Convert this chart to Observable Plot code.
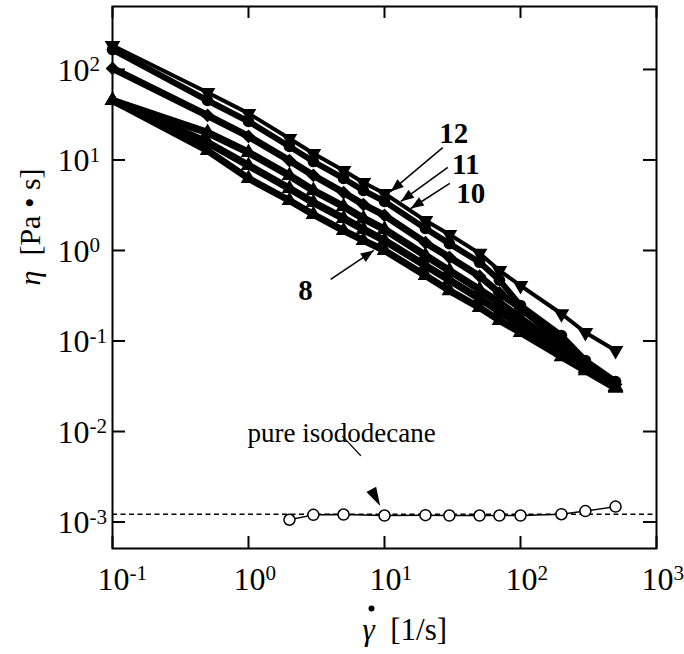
<!DOCTYPE html>
<html><head><meta charset="utf-8">
<script src="https://cdn.jsdelivr.net/npm/d3@7"></script>
<script src="https://cdn.jsdelivr.net/npm/@observablehq/plot@0.6"></script>
<style>html,body{margin:0;padding:0;background:#fff} svg text{font-family:'Liberation Serif','Times New Roman',serif}</style>
</head><body><div id="chart"></div>
<script>
// ---------- data ----------
const shearRates = [0.1, 0.5, 1, 2, 3, 5, 7, 10, 20, 30, 50, 70, 100, 200, 300, 500];
const eta12 = [184, 55.7, 32.7, 17.3, 11.8, 7.66, 5.64, 4.26, 2.14, 1.50, 0.93, 0.60, 0.41, 0.20, 0.124, 0.0785];
const eta11 = [166, 45.4, 26.6, 14.1, 9.6, 6.25, 4.6, 3.48, 1.75, 1.19, 0.74, 0.47, 0.247, 0.115, 0.061, 0.0357];
const eta10 = [102.6, 31, 18.2, 9.86, 6.74, 4.37, 3.22, 2.44, 1.22, 0.84, 0.52, 0.34, 0.23, 0.10, 0.052, 0.033];
const eta9a = [45.4, 20.1, 12.1, 6.74, 4.6, 3.06, 2.26, 1.71, 0.88, 0.60, 0.37, 0.266, 0.177, 0.085, 0.054, 0.0314];
const eta9b = [45.4, 15.6, 8.7, 4.84, 3.39, 2.26, 1.71, 1.29, 0.68, 0.47, 0.295, 0.212, 0.148, 0.0746, 0.0497, 0.0306];
const eta8  = [45.4, 12.7, 6.25, 3.57, 2.5, 1.66, 1.29, 1.0, 0.53, 0.36, 0.234, 0.169, 0.124, 0.067, 0.047, 0.030];
const seriesNames = ["12", "11", "10", "9a", "9b", "8"];
const seriesSymbols = ["triangle-down", "circle", "diamond2", "triangle", "triangle", "triangle"];
const labelledSeries = ["12", "11", "10", "8"];

const solventRates = [2, 3, 5, 10, 20, 30, 50, 70, 100, 200, 300, 500];
const etaSolvent = [1.06e-3, 1.20e-3, 1.21e-3, 1.18e-3, 1.19e-3, 1.18e-3, 1.18e-3, 1.18e-3, 1.18e-3, 1.22e-3, 1.32e-3, 1.48e-3];
const solventLevel = [1.22e-3];

const xTickValues = [0.1, 1, 10, 100, 1000];
const xTickLabels = ["10^-1", "10^0", "10^1", "10^2", "10^3"];
const yTickValues = [1e-3, 1e-2, 1e-1, 1, 10, 100];
const yTickLabels = ["10^-3", "10^-2", "10^-1", "10^0", "10^1", "10^2"];

// annotation positions (data coordinates)
const labelX = [32.3, 39.6, 43.1, 2.63];
const labelY = [19.6, 8.9, 4.2, 0.361];
const arrowFromX = [26.8, 29.2, 30.2, 4.02];
const arrowFromY = [13.7, 8.26, 5.5, 0.479];
const arrowToX = [11.1, 13.2, 15.6, 8.33];
const arrowToY = [4.49, 3.48, 2.91, 1.0];
const arrowAngle = [230, 234, 237, 56];
const solventLabel = ["pure isododecane"];
const solventLabelPos = [4.84, 0.0095];
const solventArrowLine = [[4.9, 0.0089], [6.7, 0.0054]];
const solventArrowTip = [9.3, 1.5e-3];
const solventArrowAngle = 152;

const FONT = "'Liberation Serif', 'Times New Roman', serif";

// ---------- helpers ----------
function headSymbol(angleDeg, len, wid) {
  const a = angleDeg * Math.PI / 180, c = Math.cos(a), s = Math.sin(a);
  const rot = (px, py) => [px * c - py * s, px * s + py * c];
  return {draw(ctx) {
    const p1 = rot(-wid / 2, len), p2 = rot(wid / 2, len);
    ctx.moveTo(0, 0); ctx.lineTo(p1[0], p1[1]); ctx.lineTo(p2[0], p2[1]); ctx.closePath();
  }};
}
const triDown = {draw(ctx, size) {
  const y = -Math.sqrt(size / (Math.sqrt(3) * 3));
  ctx.moveTo(0, -y * 2); ctx.lineTo(-Math.sqrt(3) * y, y); ctx.lineTo(Math.sqrt(3) * y, y); ctx.closePath();
}};

const series = [eta12, eta11, eta10, eta9a, eta9b, eta8].map((vals, i) =>
  shearRates.map((x, j) => ({x, y: vals[j], s: seriesNames[i]})));
const lineWidths = [4, 6, 7, 7.5, 7.5, 7];

const W = 684, H = 654, mL = 112, mR = 28, mT = 6, mB = 106;
const innerW = W - mL - mR, innerH = H - mT - mB;

const marks = [];
marks.push(Plot.ruleY(solventLevel, {strokeDasharray: "5,3.5", strokeWidth: 1.5, stroke: "black"}));
series.forEach((data, i) => {
  marks.push(Plot.line(data, {x: "x", y: "y", stroke: "black", strokeWidth: lineWidths[i]}));
});
series.forEach((data, i) => {
  const sym = seriesSymbols[i] === "triangle-down" ? triDown : seriesSymbols[i];
  const r = seriesSymbols[i] === "circle" ? 5.8 : seriesSymbols[i] === "diamond2" ? 6.2 : 5.8;
  marks.push(Plot.dot(data, {x: "x", y: "y", symbol: sym, r, fill: "black", stroke: "none"}));
});
const solvent = solventRates.map((x, j) => ({x, y: etaSolvent[j]}));
marks.push(Plot.line(solvent, {x: "x", y: "y", stroke: "black", strokeWidth: 1.5}));
marks.push(Plot.dot(solvent, {x: "x", y: "y", r: 5.5, fill: "white", stroke: "black", strokeWidth: 1.5}));

// frame + inward ticks
marks.push(Plot.frame({stroke: "black", strokeWidth: 2}));
marks.push(Plot.tickX(xTickValues, {x: d => d, insetTop: innerH - 12, stroke: "black", strokeWidth: 2}));
marks.push(Plot.tickX(xTickValues, {x: d => d, insetBottom: innerH - 12, stroke: "black", strokeWidth: 2}));
marks.push(Plot.tickY(yTickValues, {y: d => d, insetRight: innerW - 13, stroke: "black", strokeWidth: 2}));
marks.push(Plot.tickY(yTickValues, {y: d => d, insetLeft: innerW - 13, stroke: "black", strokeWidth: 2}));

// tick labels
marks.push(Plot.text(xTickValues, {x: d => d, frameAnchor: "bottom", text: (d, i) => xTickLabels[i],
  textAnchor: "start", dx: -15, dy: 41, lineAnchor: "bottom", fontSize: 32, fontFamily: FONT, fill: "black"}));
marks.push(Plot.text(yTickValues, {y: d => d, frameAnchor: "left", text: (d, i) => yTickLabels[i],
  textAnchor: "start", dx: -55, dy: 1, lineAnchor: "middle", fontSize: 32, fontFamily: FONT, fill: "black"}));

// axis titles
marks.push(Plot.text(["γ\u00a0\u00a0[1/s]"], {frameAnchor: "bottom", text: d => d, textAnchor: "start", dx: -22, dy: 91,
  lineAnchor: "bottom", fontSize: 31, fontFamily: FONT, fill: "black"}));
marks.push(Plot.dot(["dot"], {frameAnchor: "bottom", dx: -13, dy: 60, r: 3, fill: "black", stroke: "none"}));
marks.push(Plot.text(["η\u00a0\u00a0[Pa • s]"], {frameAnchor: "left", text: d => d, dx: -82, dy: 8, rotate: -90,
  lineAnchor: "middle", fontSize: 30, fontFamily: FONT, fill: "black"}));

// annotations
const ann = labelledSeries.map((n, i) => ({n, x: labelX[i], y: labelY[i], x1: arrowFromX[i], y1: arrowFromY[i], x2: arrowToX[i], y2: arrowToY[i], a: arrowAngle[i]}));
marks.push(Plot.link(ann, {x1: "x1", y1: "y1", x2: "x2", y2: "y2", stroke: "black", strokeWidth: 1.5}));
ann.forEach(d => {
  marks.push(Plot.dot([d], {x: "x2", y: "y2", symbol: headSymbol(d.a, 13, 10), r: 5, fill: "black", stroke: "none"}));
});
marks.push(Plot.text(ann, {x: "x", y: "y", text: "n", fontSize: 29, fontWeight: "bold", fontFamily: FONT, fill: "black", lineAnchor: "middle"}));
marks.push(Plot.text(solventLabel, {x: solventLabelPos[0], y: solventLabelPos[1], text: d => d, fontSize: 27, fontFamily: FONT, fill: "black", lineAnchor: "middle"}));
marks.push(Plot.link([solventArrowLine], {x1: d => d[0][0], y1: d => d[0][1], x2: d => d[1][0], y2: d => d[1][1], stroke: "black", strokeWidth: 1.2}));
marks.push(Plot.dot([solventArrowTip], {x: d => d[0], y: d => d[1], symbol: headSymbol(solventArrowAngle, 19, 11), r: 5, fill: "black", stroke: "none"}));

const chart = Plot.plot({
  width: W, height: H,
  marginLeft: mL, marginRight: mR, marginTop: mT, marginBottom: mB,
  x: {type: "log", domain: [0.1, 1000], axis: null},
  y: {type: "log", domain: [5.1e-4, 496], axis: null},
  style: {fontFamily: FONT, background: "white", color: "black", overflow: "visible"},
  marks
});
document.getElementById("chart").append(chart);

// superscript exponents and italic greek letters
d3.select(chart).selectAll("text").each(function () {
  const t = d3.select(this);
  const s = this.textContent;
  const m = s.match(/^10\^(.+)$/);
  if (m) {
    t.text("");
    t.append("tspan").text("10");
    t.append("tspan").attr("dy", "-0.45em").attr("font-size", "0.66em").text(m[1]);
    return;
  }
  if (s[0] === "γ" || s[0] === "η") {
    t.text("");
    t.append("tspan").attr("font-style", "italic").text(s[0]);
    t.append("tspan").text(s.slice(1));
  }
});
</script>
</body></html>
